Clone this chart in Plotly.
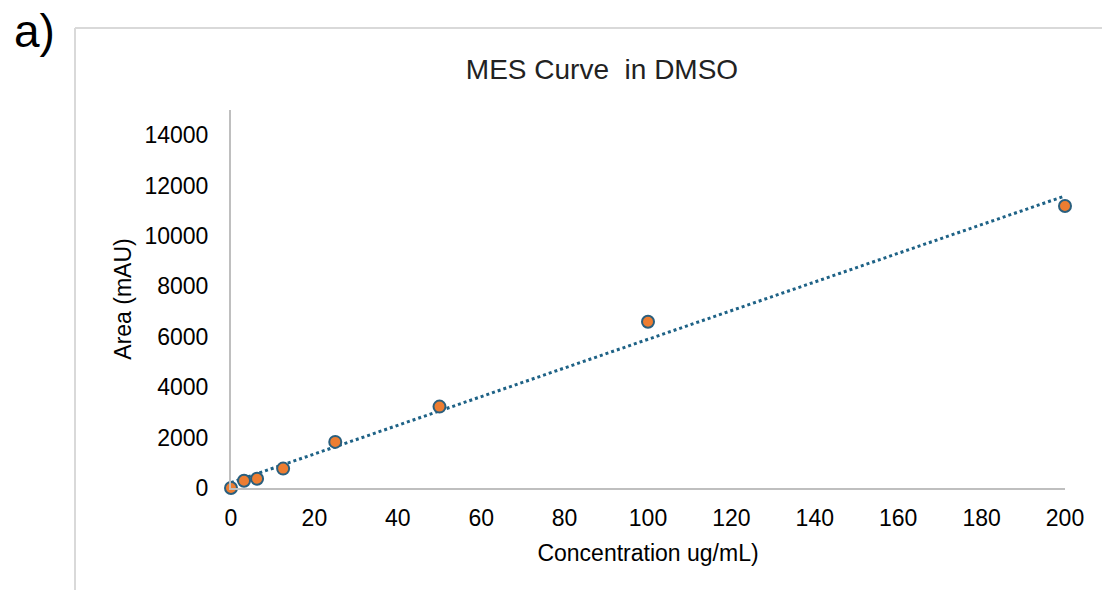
import numpy as np
import plotly.graph_objects as go

# MES calibration standards (concentration in ug/mL) and measured peak areas (mAU)
concentration = [0, 3.125, 6.25, 12.5, 25, 50, 100, 200]
area = [0, 290, 370, 770, 1830, 3230, 6600, 11190]

x_ticks = [0, 20, 40, 60, 80, 100, 120, 140, 160, 180, 200]
y_ticks = [0, 2000, 4000, 6000, 8000, 10000, 12000, 14000]

# Linear least-squares trendline through the standards
slope, intercept = np.polyfit(concentration, area, 1)
fit_x = np.array([min(concentration), max(concentration)])
fit_y = slope * fit_x + intercept

FONT = "Liberation Sans, Arial, sans-serif"
W, H = 1102, 590
ML, MR, MT, MB = 231, 37, 110, 102
PW, PH = W - ML - MR, H - MT - MB


def px_x(p):
    return (p - ML) / PW


def px_y(p):
    return (H - MB - p) / PH


fig = go.Figure()

fig.add_trace(go.Scatter(
    x=fit_x, y=fit_y, mode="lines",
    line=dict(color="#1e6286", width=3, dash="dot"),
    hoverinfo="skip", showlegend=False, cliponaxis=False,
))

fig.add_trace(go.Scatter(
    x=concentration, y=area, mode="markers",
    marker=dict(size=12, color="#ed7d31", line=dict(color="#2a5f7e", width=2)),
    showlegend=False, cliponaxis=False,
))

# Light grey chart-area frame (top and left edges)
frame = dict(type="line", xref="paper", yref="paper",
             line=dict(color="#d9d9d9", width=2), layer="below")
fig.add_shape(**frame, x0=px_x(75), x1=px_x(W + 5), y0=px_y(28), y1=px_y(28))
fig.add_shape(**frame, x0=px_x(75), x1=px_x(75), y0=px_y(28), y1=px_y(H + 5))

fig.add_annotation(
    text="a)", xref="paper", yref="paper", x=px_x(12), y=px_y(3),
    xanchor="left", yanchor="top", showarrow=False,
    font=dict(family=FONT, size=46, color="#000000"),
)

fig.update_layout(
    width=W, height=H,
    margin=dict(l=ML, r=MR, t=MT, b=MB, pad=0),
    paper_bgcolor="white", plot_bgcolor="white",
    font=dict(family=FONT, color="#000000"),
    title=dict(
        text="MES Curve  in DMSO", x=602 / W, xanchor="center",
        y=1 - 69 / H, yanchor="middle",
        font=dict(family=FONT, size=28, color="#222222"),
    ),
    xaxis=dict(
        range=[0, 200], tickvals=x_ticks, showgrid=False, zeroline=False,
        showline=True, linecolor="#bfbfbf", linewidth=2,
        ticks="outside", ticklen=0, ticklabelstandoff=8,
        tickfont=dict(family=FONT, size=23, color="#000000"),
        title=dict(text="Concentration ug/mL)", standoff=15,
                   font=dict(family=FONT, size=23, color="#000000")),
    ),
    yaxis=dict(
        range=[0, 15000], tickvals=y_ticks, ticktext=[str(v) for v in y_ticks],
        showgrid=False, zeroline=False,
        showline=True, linecolor="#bfbfbf", linewidth=2,
        ticks="outside", ticklen=0, ticklabelstandoff=16,
        tickfont=dict(family=FONT, size=23, color="#000000"),
        title=dict(text="Area (mAU)", standoff=6,
                   font=dict(family=FONT, size=23, color="#000000")),
    ),
)

fig.write_html("out.html")
